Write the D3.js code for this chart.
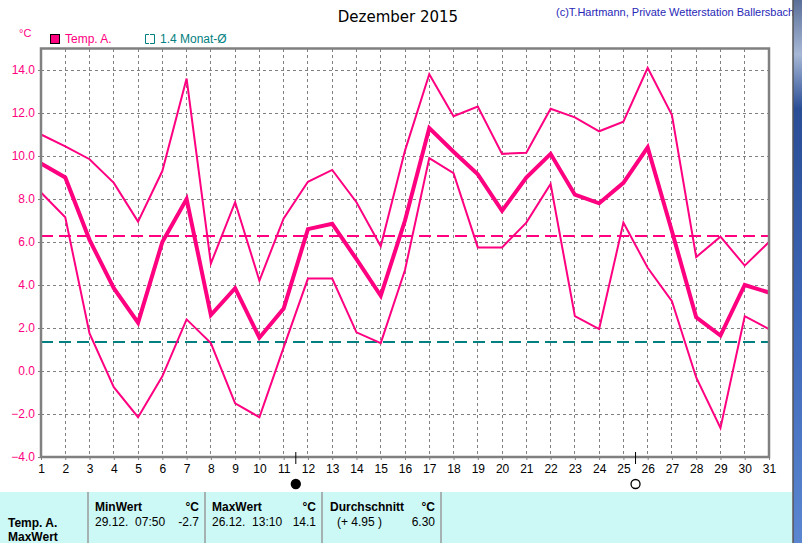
<!DOCTYPE html>
<html lang="de">
<head>
<meta charset="UTF-8">
<title>Dezember 2015</title>
<style>
body{margin:0;background:#fff;}
svg{display:block;font-family:"Liberation Sans",Arial,sans-serif;}
</style>
</head>
<body>
<div class="chart"></div>
<script src="https://d3js.org/d3.v7.min.js"></script>
<script>
// Tageswerte Dezember 2015
var days = d3.range(1, 32);
var tempMax = [11.0,10.45,9.85,8.75,6.95,9.3,13.6,5.0,7.85,4.2,7.1,8.8,9.35,7.85,5.8,10.25,13.8,11.85,12.3,10.1,10.15,12.2,11.8,11.15,11.6,14.1,11.9,5.3,6.25,4.9,6.0];
var tempAvg = [9.65,9.0,6.1,3.85,2.25,6.0,8.0,2.6,3.85,1.55,2.9,6.6,6.85,5.2,3.5,7.0,11.3,10.2,9.15,7.45,9.0,10.1,8.2,7.8,8.75,10.4,6.5,2.5,1.65,4.0,3.65];
var tempMin = [8.3,7.15,1.75,-0.75,-2.15,-0.25,2.4,1.3,-1.5,-2.15,1.1,4.3,4.3,1.8,1.3,4.7,9.9,9.2,5.75,5.75,6.9,8.7,2.55,1.95,6.9,4.8,3.25,-0.3,-2.65,2.55,1.95];
var monthAvg = 6.30;
var longAvg = 1.35;
var yTicks = [-4,-2,0,2,4,6,8,10,12,14];
var moonDays = [11.5, 25.5];   // Neumond, Vollmond
var tableHead = ["MinWert","MaxWert","Durchschnitt"];
var tableRow1 = ["29.12.  07:50","26.12.  13:10","(+ 4.95 )"];
var tableVals = ["-2.7","14.1","6.30"];

var W = 802, H = 543;
var pink = "#ff0080", teal = "#008080", grid = "#808080";

var svg = d3.select('.chart').append('svg')
	.attr('width', W).attr('height', H);

var x = d3.scaleLinear().domain([1,31]).range([41,769]);
var y = d3.scaleLinear().domain([-4,15]).range([457,48.5]);

// Titel, Copyright
svg.append('text').attr('x',398).attr('y',22).attr('text-anchor','middle')
	.style('font-family','DejaVu Sans, sans-serif').style('font-size','15px').text('Dezember 2015');
svg.append('text').attr('x',556).attr('y',16)
	.style('font-size','11px').style('fill','#2828b8')
	.text('(c)T.Hartmann, Private Wetterstation Ballersbach');

// Legende
svg.append('text').attr('x',19).attr('y',37).style('font-size','11px').style('fill',pink).text('°C');
svg.append('rect').attr('x',50.5).attr('y',34.5).attr('width',9).attr('height',9)
	.style('fill',pink).style('stroke','#000');
svg.append('text').attr('x',65).attr('y',43).style('font-size','12px').style('fill',pink).text('Temp. A.');
svg.append('path').attr('d','M149,34.5 H145.5 V43.5 H149 M150,34.5 H154.5 V43.5 H150')
	.style('fill','none').style('stroke',teal);
svg.append('text').attr('x',160).attr('y',43).style('font-size','12px').style('fill',teal).text('1.4 Monat-Ø');

// Raster
var g = svg.append('g').style('shape-rendering','crispEdges');
g.selectAll('.hg').data(yTicks).enter().append('line')
	.attr('x1',x(1)).attr('x2',x(31)).attr('y1',d=>y(d)).attr('y2',d=>y(d))
	.style('stroke',grid).style('stroke-dasharray','3,3');
g.selectAll('.vg').data(days.slice(1,30)).enter().append('line')
	.attr('x1',d=>x(d)).attr('x2',d=>x(d)).attr('y1',y(15)).attr('y2',y(-4))
	.style('stroke',grid).style('stroke-dasharray','3,3');

// Referenzlinien (Monatsmittel, langjähriges Mittel)
[[monthAvg,pink],[longAvg,teal]].forEach(function(r){
	var yy = Math.round(y(r[0]));
	svg.append('line').attr('x1',x(1)).attr('x2',x(31)).attr('y1',yy).attr('y2',yy)
		.attr('stroke',r[1]).attr('stroke-width',2).attr('stroke-dasharray','12,6');
});

// Kurven
var line = d3.line().x((d,i)=>x(days[i])).y(d=>y(d));
[[tempMax,2],[tempMin,2],[tempAvg,4]].forEach(function(s){
	svg.append('path').datum(s[0]).attr('d',line)
		.style('fill','none').style('stroke',pink).style('stroke-width',s[1])
		.style('stroke-linejoin','miter');
});

// Rahmen / Achsen
svg.append('rect').attr('x',x(1)).attr('y',y(15)).attr('width',x(31)-x(1)).attr('height',y(-4)-y(15))
	.style('fill','none').style('stroke',grid).style('stroke-width',2.5);

var yAxis = d3.axisLeft(y).tickValues(yTicks).tickFormat(d3.format('.1f')).tickSize(3).tickPadding(3);
var ya = svg.append('g').attr('transform','translate(' + x(1) + ',0)').call(yAxis);
ya.select('.domain').remove();
ya.selectAll('line').style('stroke',grid);
ya.selectAll('text').style('fill',pink).style('font-size','12px').style('font-family','Liberation Sans, Arial, sans-serif');

var xAxis = d3.axisBottom(x).tickValues(days).tickFormat(d3.format('d')).tickSize(3).tickPadding(4);
var xa = svg.append('g').attr('transform','translate(0,' + y(-4) + ')').call(xAxis);
xa.select('.domain').remove();
xa.selectAll('line').style('stroke',grid);
xa.selectAll('text').style('fill','#000').style('font-size','12px').style('font-family','Liberation Sans, Arial, sans-serif');

// Mondphasen
svg.selectAll('.mt').data(moonDays).enter().append('line')
	.attr('x1',d=>x(d)).attr('x2',d=>x(d)).attr('y1',y(-4)-5).attr('y2',y(-4)+7)
	.style('stroke','#000');
svg.selectAll('.mc').data(moonDays).enter().append('circle')
	.attr('cx',d=>x(d)).attr('cy',484).attr('r',4.5)
	.style('fill',(d,i)=>i===0?'#000':'#fff').style('stroke','#000').style('stroke-width',1.3);

// Tabelle
svg.append('rect').attr('x',0).attr('y',492).attr('width',792).attr('height',51).style('fill','#ccf8f5');
[88,205,322,441].forEach(function(cx){
	svg.append('line').attr('x1',cx).attr('x2',cx).attr('y1',492).attr('y2',543).style('stroke','#9a9a9a').style('stroke-width',1.5);
});
svg.append('text').attr('x',8).attr('y',527).style('font-size','12px').style('font-weight','bold').text('Temp. A.');
svg.append('text').attr('x',8).attr('y',541).style('font-size','12px').style('font-weight','bold').text('MaxWert');
var colX = [95,212,330];
var colR = [199,316,435];
tableHead.forEach(function(t,i){
	svg.append('text').attr('x',colX[i]).attr('y',511).style('font-size','12px').style('font-weight','bold').text(t);
	svg.append('text').attr('x',colR[i]).attr('y',511).attr('text-anchor','end').style('font-size','12px').style('font-weight','bold').text('°C');
	svg.append('text').attr('x',colX[i] + (i===2?7:0)).attr('y',526).style('font-size','12px')
		.style('white-space','pre').text(tableRow1[i]);
	svg.append('text').attr('x',colR[i]).attr('y',526).attr('text-anchor','end').style('font-size','12px').text(tableVals[i]);
});

// rechter Fensterrand
var grad = svg.append('defs').append('linearGradient').attr('id','sb').attr('x1',0).attr('x2',0).attr('y1',0).attr('y2',1);
grad.append('stop').attr('offset','0').attr('stop-color','#5a6f98');
grad.append('stop').attr('offset','0.1').attr('stop-color','#a7b8d6');
grad.append('stop').attr('offset','0.2').attr('stop-color','#2a4e96');
grad.append('stop').attr('offset','0.6').attr('stop-color','#3e68b8');
grad.append('stop').attr('offset','1').attr('stop-color','#5b86d0');
svg.append('rect').attr('x',793).attr('y',0).attr('width',9).attr('height',H).style('fill','url(#sb)');
svg.append('line').attr('x1',793).attr('x2',793).attr('y1',0).attr('y2',H).style('stroke','#555').style('stroke-width',1.5);
</script>
</body>
</html>
